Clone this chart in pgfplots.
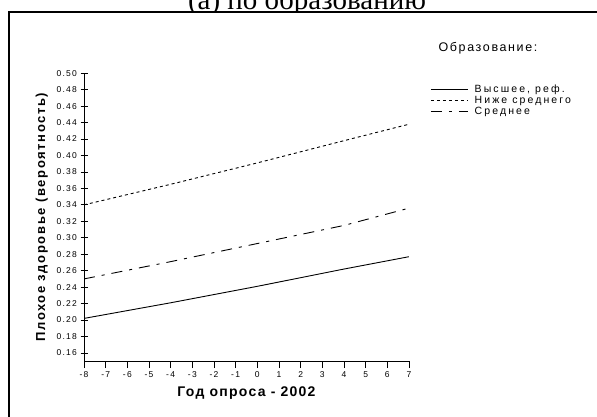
\documentclass[border=0pt]{standalone}
\usepackage{fontspec}
\setmainfont{Liberation Serif}
\setsansfont{Liberation Sans}
\newfontfamily\ylabfont{Liberation Sans}[LetterSpace=12.5]
\newfontfamily\xlabfont{Liberation Sans}[LetterSpace=9]
\newfontfamily\legtfont{Liberation Sans}[LetterSpace=13]
\newfontfamily\legfont{Liberation Sans}[LetterSpace=20]
\newfontfamily\tickfont{Liberation Sans}[LetterSpace=15]
\usepackage{pgfplots}
\pgfplotsset{compat=1.18}
\begin{document}
\begin{tikzpicture}[x=1pt,y=1pt]
\clip (0,0) rectangle (597,416);
\fill[white] (0,0) rectangle (597,416);
\node[font=\fontsize{29}{31}\selectfont\rmfamily, anchor=base] at (307,406) {(а) по образованию};
\fill[white] (9,-5) rectangle (600,404);
\draw[line width=2.5pt] (9,-5) -- (9,404) -- (600,404);
\node[font=\fontsize{12.5}{14}\selectfont\legtfont] at (488,367.5) {Образование:};
\begin{axis}[
  at={(84pt,54.8pt)}, anchor=south west,
  scale only axis, width=325pt, height=288pt,
  xmin=-8, xmax=7, ymin=0.15, ymax=0.50,
  axis x line*=bottom, axis y line*=left,
  axis line style={line width=1pt},
  xtick={-8,...,7},
  ytick={0.16,0.18,...,0.51},
  yticklabel style={/pgf/number format/.cd, fixed, fixed zerofill, precision=2},
  /pgf/number format/assume math mode=true,
  ticklabel style={font=\fontsize{8.5}{9}\selectfont\tickfont},
  x tick style={line width=0.8pt, black}, y tick style={line width=0.8pt, black},
  xtick align=outside, ytick align=center,
  major tick length=7pt,
  xlabel={Год опроса - 2002},
  ylabel={Плохое здоровье (вероятность)},
  xlabel style={font=\fontsize{14}{16}\selectfont\xlabfont\bfseries, yshift=-2pt},
  ylabel style={font=\fontsize{13}{15}\selectfont\ylabfont\bfseries, yshift=2pt},
  legend style={at={(axis description cs:1.065,0.968)}, anchor=north west, draw=none, fill=none,
    font=\fontsize{10.5}{11}\selectfont\legfont, row sep=-1.8pt, inner sep=0pt,
    nodes={inner xsep=6.5pt}},
  legend cell align=left,
  legend image code/.code={\draw[#1] (0pt,0pt) -- (37pt,0pt);},
]
\addplot[black, line width=0.9pt] coordinates {(-8,0.202) (-4,0.221) (0,0.241) (4,0.262) (7,0.277)};
\addlegendentry{Высшее, реф.}
\addplot[black, line width=0.9pt, dash pattern=on 3pt off 3pt] coordinates {(-8,0.340) (-4,0.365) (0,0.391) (4,0.418) (7,0.438)};
\addlegendentry{Ниже среднего}
\addplot[black, line width=0.9pt, dash pattern=on 11pt off 7pt on 3pt off 7pt] coordinates {(-8,0.250) (-4,0.271) (0,0.293) (4,0.315) (7,0.336)};
\addlegendentry{Среднее}
\end{axis}
\end{tikzpicture}
\end{document}
